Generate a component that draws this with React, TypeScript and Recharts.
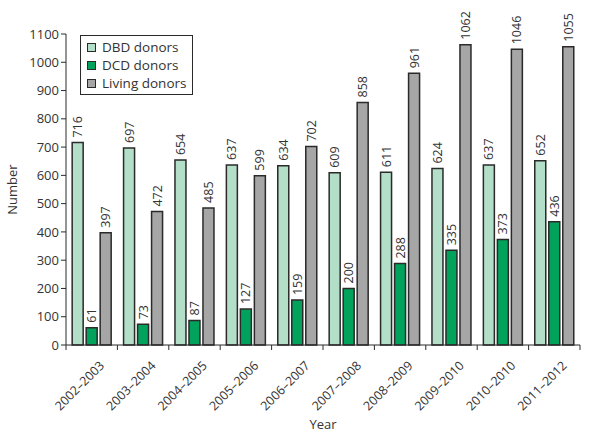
import React from 'react';
import { BarChart, Bar, XAxis, YAxis, LabelList, Label } from 'recharts';

const years = ['2002–2003', '2003–2004', '2004–2005', '2005–2006', '2006–2007', '2007–2008', '2008–2009', '2009–2010', '2010–2010', '2011–2012'];
const dbdDonors = [716, 697, 654, 637, 634, 609, 611, 624, 637, 652];
const dcdDonors = [61, 73, 87, 127, 159, 200, 288, 335, 373, 436];
const livingDonors = [397, 472, 485, 599, 702, 858, 961, 1062, 1046, 1055];
const yTicks = [0, 100, 200, 300, 400, 500, 600, 700, 800, 900, 1000, 1100];

const chartData = years.map((year, i) => ({
    year,
    dbd: dbdDonors[i],
    dcd: dcdDonors[i],
    living: livingDonors[i],
}));

const FONT = '"Open Sans", "Lato", sans-serif';
const TEXT = '#333333';
const INK = '#2a2a2a';

const series = [
    { key: 'dbd', name: 'DBD donors', color: '#b3dec8' },
    { key: 'dcd', name: 'DCD donors', color: '#00a25c' },
    { key: 'living', name: 'Living donors', color: '#a6a6a6' },
];

const PLOT_WIDTH = 514;
const BAND = PLOT_WIDTH / years.length;

const BarValue = (props: any) => {
    const { x, y, width, value } = props;
    const cx = x + width / 2;
    const cy = y - 5;
    return (
        <text
            x={cx}
            y={cy}
            transform={`rotate(-90, ${cx}, ${cy})`}
            textAnchor="start"
            dominantBaseline="central"
            fontSize={12.5}
            fontFamily={FONT}
            fill={TEXT}
        >
            {value}
        </text>
    );
};

const YearTick = (props: any) => {
    const { x, y, payload, index } = props;
    const left = x - BAND / 2;
    return (
        <g>
            <line x1={left} y1={y - 8} x2={left} y2={y - 3} stroke={INK} />
            {index === years.length - 1 && (
                <line x1={left + BAND} y1={y - 8} x2={left + BAND} y2={y - 3} stroke={INK} />
            )}
            <text
                x={x + 6}
                y={y + 6}
                transform={`rotate(-45, ${x + 6}, ${y + 6})`}
                textAnchor="end"
                dominantBaseline="hanging"
                fontSize={12.5}
                fontFamily={FONT}
                fill={TEXT}
            >
                {payload.value}
            </text>
        </g>
    );
};

const LegendBox = () => (
    <div
        style={{
            position: 'absolute',
            left: 80,
            top: 35,
            border: `1.5px solid ${INK}`,
            background: '#fff',
            padding: '2px 6px 2px 6px',
            fontFamily: FONT,
            fontSize: 13.5,
            color: TEXT,
            lineHeight: '18px',
        }}
    >
        {series.map((s) => (
            <div key={s.key} style={{ display: 'flex', alignItems: 'center' }}>
                <span
                    style={{
                        display: 'inline-block',
                        width: 7,
                        height: 7,
                        background: s.color,
                        border: `1px solid ${INK}`,
                        marginRight: 6,
                    }}
                />
                {s.name}
            </div>
        ))}
    </div>
);

const App: React.FC = () => {
    return (
        <div style={{ position: 'absolute', left: 0, top: 0, width: 590, height: 433, background: '#fff' }}>
            <BarChart
                width={590}
                height={433}
                data={chartData}
                margin={{ top: 34, right: 10, left: 26, bottom: 26 }}
                barCategoryGap="12%"
                barGap={3}
            >
                <XAxis
                    dataKey="year"
                    interval={0}
                    tickLine={false}
                    stroke={INK}
                    height={62}
                    tick={<YearTick />}
                >
                    <Label value="Year" position="insideBottom" offset={-22} fontSize={13} fontFamily={FONT} fill={TEXT} />
                </XAxis>
                <YAxis
                    domain={[0, 1100]}
                    ticks={yTicks}
                    interval={0}
                    width={40}
                    stroke={INK}
                    tickSize={5}
                    tick={{ fontSize: 13, fontFamily: FONT, fill: TEXT }}
                >
                    <Label value="Number" angle={-90} position="insideLeft" offset={-14} fontSize={13} fontFamily={FONT} fill={TEXT} style={{ textAnchor: 'middle' }} />
                </YAxis>
                {series.map((s) => (
                    <Bar
                        key={s.key}
                        dataKey={s.key}
                        name={s.name}
                        fill={s.color}
                        stroke={INK}
                        strokeWidth={1.5}
                        isAnimationActive={false}
                    >
                        <LabelList dataKey={s.key} content={<BarValue />} />
                    </Bar>
                ))}
            </BarChart>
            <LegendBox />
        </div>
    );
};

export default App;
